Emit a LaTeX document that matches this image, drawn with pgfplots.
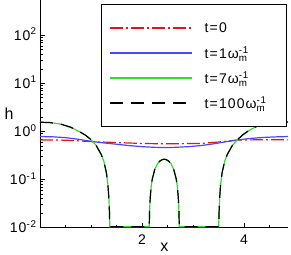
\documentclass[border=0pt]{standalone}
\usepackage{pgfplots}
\pgfplotsset{compat=1.18}
\usepackage{amsmath}
\usepackage{fontspec}
\setmainfont{Liberation Sans}[LetterSpace=8]
\definecolor{cred}{rgb}{0.9,0.08,0.08}
\definecolor{cblue}{rgb}{0.28,0.28,1.0}
\definecolor{cgreen}{rgb}{0.18,0.87,0.18}
\pgfplotstableread{
x h
0 1.55
0.2 1.52
0.4 1.42
0.6 1.22
0.8 0.95
0.9 0.82
1.0 0.67
1.1 0.51
1.2 0.33
1.25 0.24
1.3 0.14
1.33 0.08
1.35 0.04
1.36 0.022
1.368 0.0104
2.141 0.0104
2.145 0.0173
2.15 0.0256
2.16 0.042
2.18 0.073
2.2 0.1016
2.25 0.163
2.3 0.2097
2.35 0.2419
2.4 0.2594
2.435 0.263
2.47 0.2594
2.52 0.2419
2.57 0.2097
2.62 0.163
2.67 0.1016
2.69 0.073
2.71 0.042
2.72 0.0256
2.725 0.0173
2.729 0.0104
3.502 0.0104
3.51 0.022
3.52 0.04
3.54 0.08
3.57 0.14
3.62 0.24
3.67 0.33
3.77 0.51
3.87 0.67
3.97 0.84
4.07 1.0
4.2 1.2
4.35 1.42
4.5 1.52
4.67 1.55
4.86 1.56
}\hdata
\begin{document}
\begin{tikzpicture}
\begin{axis}[
  at={(0pt,0pt)}, anchor=south west,
  scale only axis, width=248pt, height=227.5pt,
  xmin=0, xmax=4.86, ymode=log, ymin=0.01, ymax=540,
  clip=false,
  axis x line*=bottom, axis y line*=left,
  xtick={2,4}, xticklabels={2,4},
  minor xtick={0.5,1,1.5,2.5,3,3.5,4.5},
  ytick={0.01,0.1,1,10,100},
  yticklabels={10\textsuperscript{-2},10\textsuperscript{-1},10\textsuperscript{0},10\textsuperscript{1},10\textsuperscript{2}},
  tick align=inside, major tick length=5pt, minor tick length=3pt,
  every tick/.style={black, line width=0.6pt},
  axis line style={black, line width=0.8pt},
  x tick label style={font=\fontsize{14}{14}\selectfont, inner sep=1pt, yshift=-6.5pt},
  y tick label style={font=\fontsize{14}{14}\selectfont, inner sep=1pt, xshift=-2.3pt, yshift=1pt},
  xlabel={x}, ylabel={h},
  xlabel style={font=\fontsize{16}{16}\selectfont, at={(axis description cs:0.501,0)}, anchor=base, yshift=-23.5pt},
  ylabel style={font=\fontsize{16}{16}\selectfont, rotate=-90, at={(axis description cs:0,0.4747)}, anchor=base west, xshift=-39pt},
  legend style={at={(axis description cs:0.996,0.9824)}, anchor=north east, draw=black, line width=0.6pt, fill=white,
    font=\fontsize{14}{16}\selectfont, inner xsep=8pt, inner ysep=11pt, row sep=0pt, column sep=0pt,
    nodes={inner sep=0pt, text width=74pt, align=left}},
  legend cell align=left,
  legend image code/.code={\draw[#1, line width=1.4pt] (0pt,0pt) -- (82pt,0pt); \path[draw=none,fill=none] (0pt,-12.2pt) rectangle (95pt,12.8pt);},
]
\addplot[cred, line width=1.2pt, dash pattern=on 13pt off 3pt on 2pt off 3pt] coordinates {
(0,0.665) (0.5,0.655) (1.04,0.61) (1.5,0.585) (2.0,0.56) (2.44,0.55) (3.14,0.56) (3.5,0.6) (3.87,0.66) (4.4,0.67) (4.86,0.665)};
\addlegendentry{t=0}
\addplot[cblue, line width=1.2pt] coordinates {
(0,0.78) (0.25,0.77) (0.5,0.74) (0.75,0.685) (1.04,0.61) (1.25,0.575) (1.5,0.54) (1.75,0.505) (2.0,0.48) (2.25,0.465) (2.44,0.46) (2.65,0.465) (2.9,0.48) (3.15,0.505) (3.4,0.55) (3.65,0.61) (3.87,0.66) (4.1,0.71) (4.4,0.75) (4.65,0.77) (4.86,0.78)};
\addlegendentry{t=1ω$^{\textrm{-1}}_{\textrm{m}}$}
\addplot[cgreen, line width=1.2pt] table {\hdata};
\addlegendentry{t=7ω$^{\textrm{-1}}_{\textrm{m}}$}
\addplot[black, line width=1.2pt, dash pattern=on 13pt off 8pt] table {\hdata};
\addlegendentry{t=100ω$^{\textrm{-1}}_{\textrm{m}}$}
\end{axis}
\pgfresetboundingbox
\path[use as bounding box] (-40pt,-26.5pt) rectangle (251pt,227.5pt);
\end{tikzpicture}
\end{document}
